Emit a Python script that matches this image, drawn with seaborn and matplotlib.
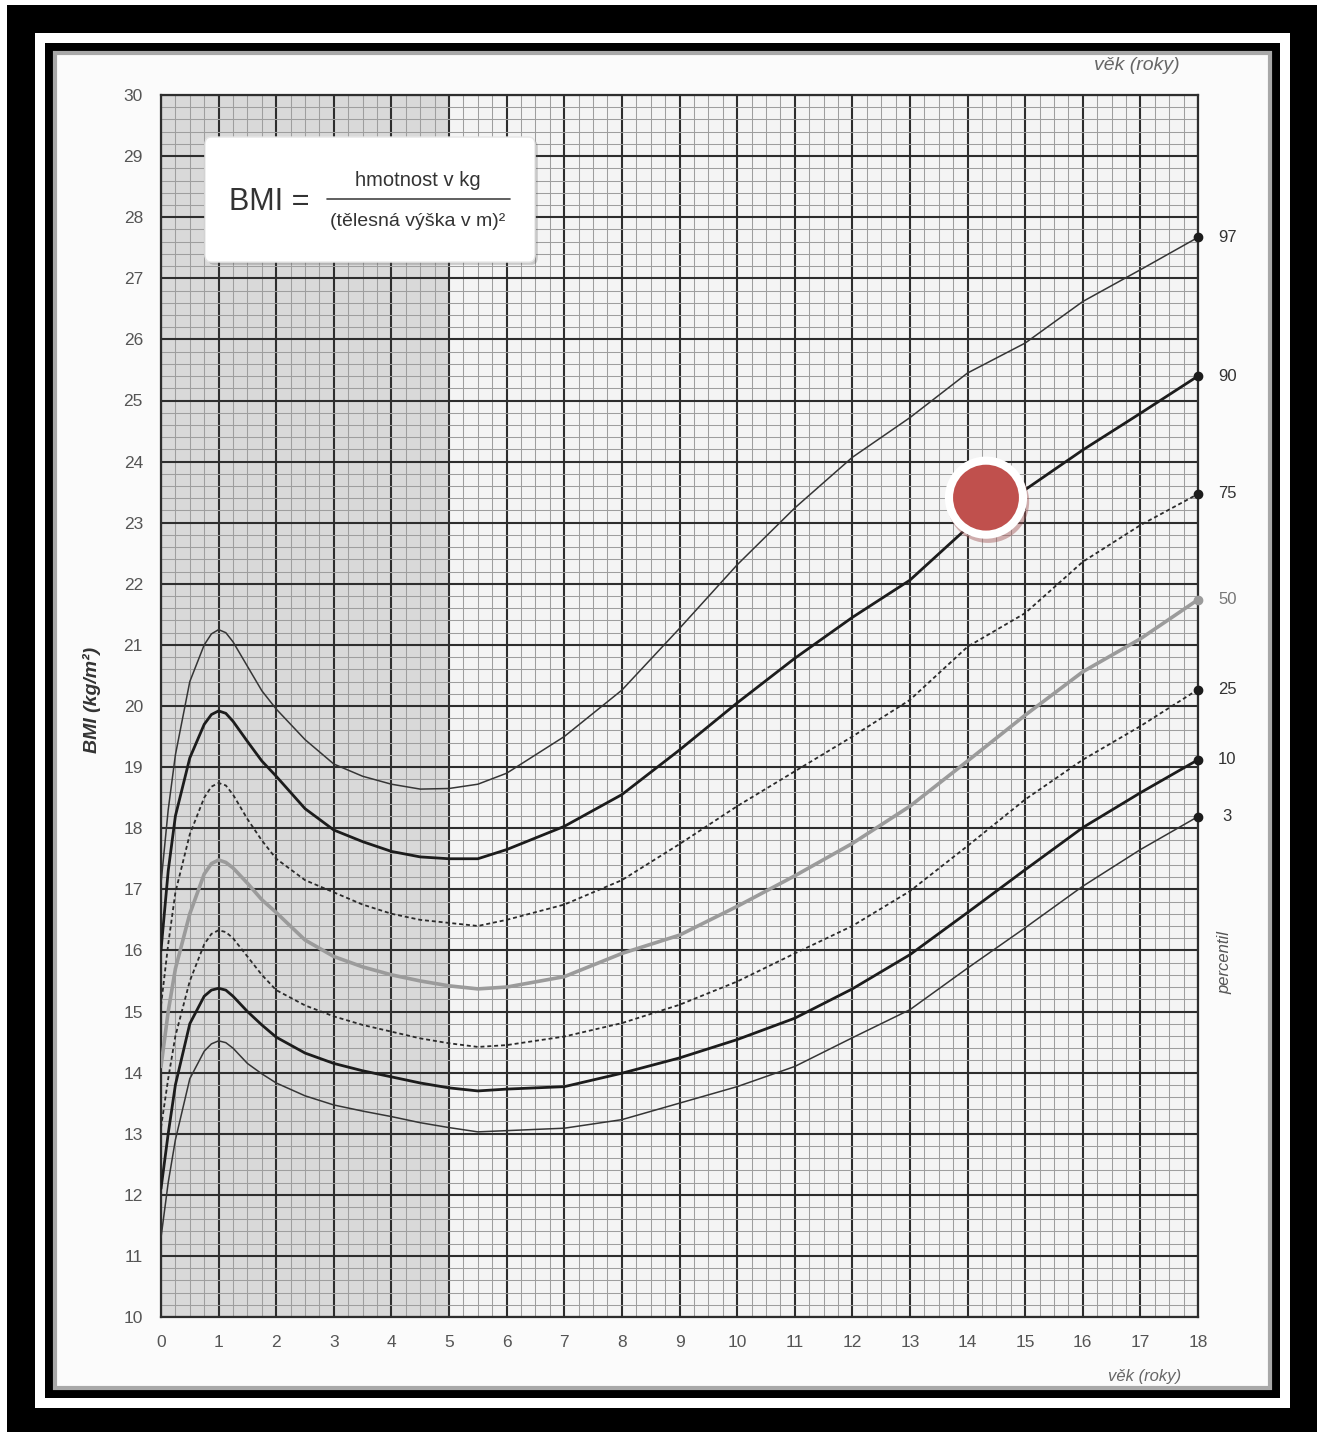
import matplotlib
matplotlib.use("Agg")
import matplotlib.pyplot as plt
import matplotlib.patches as mpatches
import matplotlib.patheffects as pe
from matplotlib import font_manager
import numpy as np
import pandas as pd
import seaborn as sns

# ---------------- data ----------------
ages = [0, 0.125, 0.25, 0.5, 0.75, 0.875, 1, 1.125, 1.25, 1.5, 1.75, 2, 2.5, 3, 3.5, 4, 4.5, 5, 5.5, 6,
        7, 8, 9, 10, 11, 12, 13, 14, 15, 16, 17, 18]

p97 = [17.1, 18.3, 19.2, 20.4, 21.0, 21.18, 21.25, 21.2, 21.05, 20.65, 20.25, 19.95, 19.45, 19.05, 18.85, 18.72,
       18.64, 18.65, 18.72, 18.9,
       19.5, 20.26, 21.27, 22.31, 23.24, 24.07, 24.72, 25.45, 25.94, 26.62, 27.14, 27.67]
p90 = [16.0, 17.3, 18.2, 19.15, 19.7, 19.86, 19.92, 19.88, 19.75, 19.42, 19.1, 18.85, 18.32, 17.97, 17.78, 17.62,
       17.53, 17.5, 17.5, 17.65,
       18.03, 18.55, 19.28, 20.05, 20.78, 21.45, 22.06, 22.92, 23.54, 24.19, 24.79, 25.4]
p75 = [15.1, 16.1, 16.95, 17.9, 18.5, 18.68, 18.74, 18.7, 18.55, 18.15, 17.8, 17.5, 17.15, 16.95, 16.75, 16.6,
       16.5, 16.45, 16.4, 16.5,
       16.75, 17.15, 17.74, 18.36, 18.93, 19.5, 20.1, 20.97, 21.52, 22.36, 22.96, 23.47]
p50 = [14.1, 15.0, 15.7, 16.6, 17.25, 17.42, 17.48, 17.44, 17.35, 17.1, 16.83, 16.62, 16.17, 15.9, 15.73, 15.6,
       15.5, 15.42, 15.37, 15.4,
       15.57, 15.95, 16.25, 16.72, 17.22, 17.75, 18.36, 19.1, 19.85, 20.56, 21.1, 21.74]
p25 = [13.1, 13.9, 14.6, 15.5, 16.1, 16.27, 16.33, 16.3, 16.2, 15.9, 15.6, 15.35, 15.1, 14.92, 14.78, 14.67,
       14.56, 14.48, 14.42, 14.45,
       14.59, 14.81, 15.11, 15.49, 15.95, 16.4, 16.97, 17.71, 18.47, 19.12, 19.67, 20.27]
p10 = [12.1, 13.0, 13.8, 14.8, 15.25, 15.35, 15.38, 15.35, 15.25, 15.0, 14.78, 14.58, 14.32, 14.15, 14.03, 13.93,
       13.83, 13.75, 13.7, 13.73,
       13.77, 13.99, 14.24, 14.54, 14.89, 15.37, 15.93, 16.62, 17.32, 18.01, 18.58, 19.12]
p3 = [11.3, 12.2, 12.9, 13.9, 14.35, 14.47, 14.52, 14.49, 14.4, 14.15, 13.98, 13.83, 13.62, 13.47, 13.37, 13.28,
      13.18, 13.1, 13.03, 13.05,
      13.09, 13.23, 13.5, 13.77, 14.1, 14.57, 15.03, 15.71, 16.37, 17.05, 17.65, 18.19]

percentile_labels = ["97", "90", "75", "50", "25", "10", "3"]
x_ticks = list(range(0, 19))
y_ticks = list(range(10, 31))
shaded_age_range = [0, 5]
point_age = [14.32]
point_bmi = [23.41]

# ---------------- fonts ----------------
available = {f.name for f in font_manager.fontManager.ttflist}
narrow = "Liberation Sans Narrow" if "Liberation Sans Narrow" in available else "Liberation Sans"
base_font = ["Liberation Sans", "DejaVu Sans"]
frac_size = 16 if narrow == "Liberation Sans Narrow" else 14.5

sns.set_style("white")
plt.rcParams["font.family"] = base_font

W, H = 1324, 1432
fig = plt.figure(figsize=(W / 100, H / 100), dpi=100)
fig.patch.set_facecolor("white")


def frect(x0, y0, x1, y1, **kw):
    """rectangle given in figure pixel coords (top-left origin)"""
    r = mpatches.Rectangle((x0 / W, 1 - y1 / H), (x1 - x0) / W, (y1 - y0) / H,
                           transform=fig.transFigure, zorder=-10, **kw)
    fig.patches.append(r)


# frame decoration
frect(7, 5, 1317, 1432, facecolor="black", edgecolor="none")
frect(35, 33, 1290, 1408, facecolor="white", edgecolor="none")
frect(45, 43, 1280, 1398, facecolor="black", edgecolor="none")
frect(55, 53, 1270, 1388, facecolor="#fbfbfb", edgecolor="#a8a8a8", lw=3)

# axes
ax = fig.add_axes([161 / W, 1 - 1317 / H, (1198 - 161) / W, (1317 - 95) / H])
ax.set_zorder(1)
ax.set_facecolor("#f4f4f4")
ax.set_xlim(0, 18)
ax.set_ylim(10, 30)
ax.axvspan(shaded_age_range[0], shaded_age_range[1], color="#d9d9d9", zorder=0, lw=0)

ax.set_xticks(x_ticks)
ax.set_yticks(y_ticks)
ax.set_xticks(np.arange(0, 18.001, 0.25), minor=True)
ax.set_yticks(np.arange(10, 30.001, 0.2), minor=True)
ax.set_axisbelow(True)
ax.grid(which="minor", color="#9e9e9e", lw=0.75)
ax.grid(which="major", color="#2e2e2e", lw=1.5)
ax.tick_params(which="minor", length=0)
ax.tick_params(which="major", direction="out", length=8, width=1.5, color="#2e2e2e",
               labelsize=12.5, labelcolor="#555555", pad=5)
for s in ax.spines.values():
    s.set_color("#2e2e2e")
    s.set_linewidth(1.6)

# percentile curves
series = [p97, p90, p75, p50, p25, p10, p3]
styles = [
    dict(color="#353535", lw=1.1, ls="-"),
    dict(color="#1c1c1c", lw=2.0, ls="-"),
    dict(color="#2a2a2a", lw=1.3, ls=(0, (2.2, 1.6))),
    dict(color="#9b9b9b", lw=2.6, ls="-"),
    dict(color="#2a2a2a", lw=1.3, ls=(0, (2.2, 1.6))),
    dict(color="#1c1c1c", lw=2.0, ls="-"),
    dict(color="#353535", lw=1.1, ls="-"),
]
for vals, st, lab in zip(series, styles, percentile_labels):
    df = pd.DataFrame({"age": ages, "bmi": vals})
    sns.lineplot(data=df, x="age", y="bmi", ax=ax, estimator=None, sort=False,
                 color=st["color"], linewidth=st["lw"], linestyle=st["ls"], zorder=3,
                 solid_joinstyle="round", dash_joinstyle="round")
    dot_color = "#9b9b9b" if lab == "50" else "#1c1c1c"
    ax.plot([ages[-1]], [vals[-1]], "o", ms=6, color=dot_color, clip_on=False, zorder=4)
    ax.annotate(lab, xy=(ages[-1], vals[-1]), xytext=(21, 0), textcoords="offset points",
                ha="center", va="center", fontsize=12,
                color="#777777" if lab == "50" else "#333333", annotation_clip=False)

ax.set_xlabel("")
ax.set_ylabel("")

# formula box
box = mpatches.FancyBboxPatch((0.0424, 0.8633), 0.3183, 0.1023, boxstyle="round,pad=0,rounding_size=0.006",
                              transform=ax.transAxes, facecolor="white", edgecolor="#e6e6e6", lw=1,
                              zorder=6, path_effects=[pe.SimplePatchShadow(offset=(2, -2), alpha=0.25),
                                                      pe.Normal()])
ax.add_patch(box)
ax.text(0.066, 0.9124, "BMI =", transform=ax.transAxes, ha="left", va="center",
        fontsize=22, color="#333333", family=[narrow, "DejaVu Sans"], zorder=7)
ax.text(0.2478, 0.9304, "hmotnost v kg", transform=ax.transAxes, ha="center", va="center",
        fontsize=frac_size, color="#333333", family=[narrow, "DejaVu Sans"], zorder=7)
ax.text(0.2470, 0.8961, "(tělesná výška v m)²", transform=ax.transAxes, ha="center", va="center",
        fontsize=frac_size - 0.5, color="#333333", family=[narrow, "DejaVu Sans"], zorder=7)
ax.plot([0.1601, 0.3367], [0.9149, 0.9149], transform=ax.transAxes, color="#444444", lw=1.2, zorder=7)

# highlighted point
sc = sns.scatterplot(x=point_age, y=point_bmi, ax=ax, s=3500, color="white", edgecolor="none",
                     zorder=9, legend=False)
sc.collections[-1].set_path_effects([pe.SimplePatchShadow(offset=(1.5, -3), shadow_rgbFace="#a05555", alpha=0.45),
                                     pe.Normal()])
sns.scatterplot(x=point_age, y=point_bmi, ax=ax, s=2250, color="#c0504d", edgecolor="none",
                zorder=10, legend=False)

# texts outside axes
fig.text(92 / W, 1 - 700 / H, "BMI (kg/m²)", rotation=90, ha="center", va="center",
         fontsize=14, fontweight="bold", fontstyle="italic", color="#333333")
fig.text(1137 / W, 1 - 65 / H, "věk (roky)", ha="center", va="center", fontsize=14,
         fontstyle="italic", color="#666666")
fig.text(1145 / W, 1 - 1376 / H, "věk (roky)", ha="center", va="center", fontsize=12,
         fontstyle="italic", color="#666666")
fig.text(1225 / W, 1 - 962 / H, "percentil", rotation=90, ha="center", va="center", fontsize=12,
         fontstyle="italic", color="#555555")

fig.savefig("out.png", dpi=100)
